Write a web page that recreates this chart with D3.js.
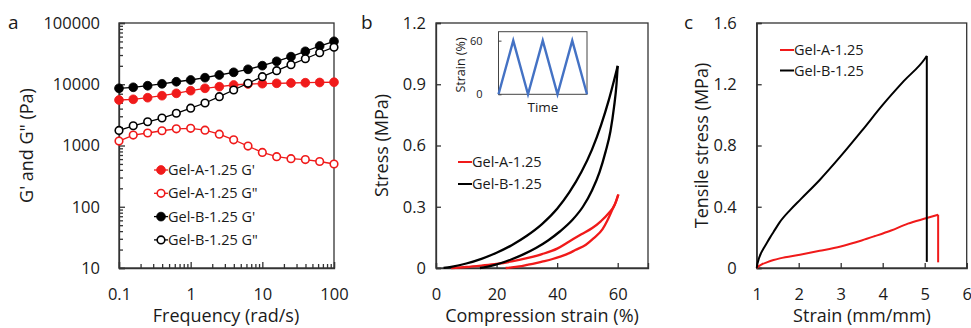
<!DOCTYPE html>
<html>
<head>
<meta charset="utf-8">
<script src="https://cdn.jsdelivr.net/npm/d3@7"></script>
<style>
  body { margin: 0; background: #fff; }
  svg text { font-family: "Open Sans", sans-serif; fill: #1a1a1a; }
  .axis path, .axis line { stroke: #333; stroke-width: 1.3; }
  .axis text { font-size: 16.5px; }
</style>
</head>
<body>
<svg width="971" height="328"></svg>
<script>
// ---- panel a : frequency sweep ----
var freq = [0.1, 0.158, 0.251, 0.398, 0.631, 1, 1.585, 2.51, 3.98, 6.31, 10, 15.85, 25.1, 39.8, 63.1, 100];
var gelA_Gp  = [5530, 5680, 6030, 6500, 7110, 7850, 8590, 9120, 9720, 10100, 10210, 10370, 10480, 10590, 10690, 10790];
var gelA_Gpp = [1180, 1480, 1600, 1740, 1870, 1910, 1780, 1530, 1240, 980, 770, 657, 609, 590, 548, 499];
var gelB_Gp  = [8590, 8920, 9460, 10180, 10980, 11730, 12800, 14160, 15670, 17540, 20090, 23700, 28200, 34500, 42100, 50200];
var gelB_Gpp = [1760, 2100, 2440, 2810, 3360, 4070, 4940, 6270, 8050, 10370, 13290, 16640, 20850, 26100, 32700, 40300];
var yTicksA = [10, 100, 1000, 10000, 100000];
var xTicksA = [0.1, 1, 10, 100];

// ---- panel b : cyclic compression ----
var bLoadStrain   = [2.5, 5, 10, 15, 20, 25, 30, 35, 40, 44, 48, 51.5, 54.5, 57, 58.8, 60];
var bLoadStress   = [0, 0.006, 0.022, 0.045, 0.075, 0.112, 0.158, 0.215, 0.29, 0.37, 0.47, 0.58, 0.7, 0.82, 0.92, 0.99];
var bUnloadStrain = [60, 59.6, 58.8, 57.6, 56, 54, 51.5, 48.5, 45, 41, 37, 33, 29, 25, 21, 17.5, 14.5];
var bUnloadStress = [0.99, 0.9, 0.79, 0.67, 0.57, 0.47, 0.38, 0.3, 0.235, 0.18, 0.135, 0.098, 0.068, 0.043, 0.022, 0.008, 0];
var aLoadStrain   = [5, 10, 15, 20, 25, 30, 35, 40, 44, 48, 51.6, 54.5, 57, 59, 60.2];
var aLoadStress   = [0, 0.005, 0.012, 0.02, 0.032, 0.048, 0.068, 0.095, 0.13, 0.165, 0.196, 0.23, 0.268, 0.31, 0.36];
var aUnloadStrain = [60.2, 59.3, 58.2, 56.5, 55, 52, 49.5, 46, 44, 41, 38.5, 35, 33, 30, 27.5, 25, 23];
var aUnloadStress = [0.36, 0.32, 0.285, 0.23, 0.19, 0.145, 0.114, 0.088, 0.073, 0.056, 0.044, 0.031, 0.024, 0.015, 0.008, 0.003, 0];
var xTicksB = [0, 20, 40, 60];
var yTicksB = [0, 0.3, 0.6, 0.9, 1.2];
// inset: strain program
var insetTime   = [0, 1, 2, 3, 4, 5, 6];
var insetStrain = [0, 60, 0, 60, 0, 60, 0];

// ---- panel c : tensile (last point = after break) ----
var cB_strain = [1, 1.02, 1.05, 1.1, 1.17, 1.24, 1.32, 1.4, 1.55, 1.8, 2.05, 2.5, 3, 3.5, 4, 4.5, 5, 5.05, 5.05];
var cB_stress = [0, 0.03, 0.06, 0.095, 0.13, 0.163, 0.2, 0.235, 0.3, 0.38, 0.45, 0.575, 0.73, 0.895, 1.065, 1.22, 1.365, 1.385, 0.04];
var cA_strain = [1, 1.05, 1.12, 1.24, 1.4, 1.55, 2.03, 2.5, 3, 3.5, 3.8, 4.2, 4.6, 5.05, 5.32, 5.32];
var cA_stress = [0, 0.012, 0.024, 0.037, 0.052, 0.063, 0.087, 0.112, 0.141, 0.18, 0.207, 0.245, 0.29, 0.326, 0.348, 0.037];
var xTicksC = [1, 2, 3, 4, 5, 6];
var yTicksC = [0, 0.4, 0.8, 1.2, 1.6];

var red = "#f01a1a";
var black = "#000";
var top_ = 23, bottom = 268;

var svg = d3.select("svg");

function zip(xs, ys) {
  return xs.map(function(x, i) { return [x, ys[i]]; });
}

function frame(x0, x1) {
  svg.append("rect")
    .attr("x", x0).attr("y", top_)
    .attr("width", x1 - x0).attr("height", bottom - top_)
    .attr("fill", "none").attr("stroke", "#333").attr("stroke-width", 1.3);
}

function panelLetter(txt, x) {
  svg.append("text").attr("x", x).attr("y", 29)
    .style("font-size", "19px").text(txt);
}

function yTitle(txt, x) {
  svg.append("text")
    .attr("transform", "translate(" + x + "," + (top_ + bottom) / 2 + ") rotate(-90)")
    .attr("text-anchor", "middle").attr("dy", "0.35em")
    .style("font-size", "18px").text(txt);
}

function xTitle(txt, x) {
  svg.append("text").attr("x", x).attr("y", 322)
    .attr("text-anchor", "middle")
    .style("font-size", "18px").text(txt);
}

function legendLine(x, y, color, txt) {
  svg.append("line").attr("x1", x).attr("x2", x + 14).attr("y1", y).attr("y2", y)
    .attr("stroke", color).attr("stroke-width", 2);
  svg.append("text").attr("x", x + 14).attr("y", y).attr("dy", "0.35em")
    .style("font-size", "14.5px").text(txt);
}

// ================= panel a =================
var xA = d3.scaleLog().domain([0.1, 100]).range([119, 334]);
var yA = d3.scaleLog().domain([10, 100000]).range([bottom, top_]);

var minorX = [], minorY = [];
[0.1, 1, 10].forEach(function(d) { for (var k = 2; k < 10; k++) minorX.push(d * k); });
[10, 100, 1000, 10000].forEach(function(d) { for (var k = 2; k < 10; k++) minorY.push(d * k); });

frame(119, 334);

svg.append("g").attr("class", "axis").attr("transform", "translate(0," + bottom + ")")
  .call(d3.axisBottom(xA).tickValues(minorX).tickSize(-4).tickFormat(""))
  .select(".domain").remove();
svg.append("g").attr("class", "axis").attr("transform", "translate(0," + bottom + ")")
  .call(d3.axisBottom(xA).tickValues(xTicksA).tickSize(-6).tickPadding(20).tickFormat(d3.format("~g")));
svg.append("g").attr("class", "axis").attr("transform", "translate(119,0)")
  .call(d3.axisLeft(yA).tickValues(minorY).tickSize(-4).tickFormat(""))
  .select(".domain").remove();
svg.append("g").attr("class", "axis").attr("transform", "translate(119,0)")
  .call(d3.axisLeft(yA).tickValues(yTicksA).tickSize(-6).tickPadding(19).tickFormat(d3.format("d")));

var seriesA = [
  { vals: gelA_Gp,  color: red,   open: false, name: "Gel-A-1.25 G'" },
  { vals: gelA_Gpp, color: red,   open: true,  name: "Gel-A-1.25 G\"" },
  { vals: gelB_Gp,  color: black, open: false, name: "Gel-B-1.25 G'" },
  { vals: gelB_Gpp, color: black, open: true,  name: "Gel-B-1.25 G\"" }
];
var lineA = d3.line().x(function(d) { return xA(d[0]); }).y(function(d) { return yA(d[1]); });

seriesA.forEach(function(s, si) {
  var pts = zip(freq, s.vals);
  svg.append("path").attr("d", lineA(pts)).attr("fill", "none")
    .attr("stroke", s.color).attr("stroke-width", 1.3);
  svg.append("g").selectAll("circle").data(pts).enter().append("circle")
    .attr("cx", function(d) { return xA(d[0]); })
    .attr("cy", function(d) { return yA(d[1]); })
    .attr("r", s.open ? 3.8 : 4.4)
    .attr("fill", s.open ? "#fff" : s.color)
    .attr("stroke", s.color).attr("stroke-width", s.open ? 1.6 : 0.8);

  // legend
  var ly = 170 + si * 23.3;
  svg.append("line").attr("x1", 154).attr("x2", 168).attr("y1", ly).attr("y2", ly)
    .attr("stroke", s.color).attr("stroke-width", 1.3);
  svg.append("circle").attr("cx", 161).attr("cy", ly).attr("r", s.open ? 3.8 : 4.4)
    .attr("fill", s.open ? "#fff" : s.color)
    .attr("stroke", s.color).attr("stroke-width", s.open ? 1.6 : 0.8);
  svg.append("text").attr("x", 168).attr("y", ly).attr("dy", "0.35em")
    .style("font-size", "14.5px").text(s.name);
});

panelLetter("a", 8);
yTitle("G' and G\" (Pa)", 27);
xTitle("Frequency (rad/s)", 226);

// ================= panel b =================
var xB = d3.scaleLinear().domain([0, 70]).range([436, 648]);
var yB = d3.scaleLinear().domain([0, 1.2]).range([bottom, top_]);

frame(436, 648);
svg.append("g").attr("class", "axis").attr("transform", "translate(0," + bottom + ")")
  .call(d3.axisBottom(xB).tickValues(xTicksB).tickSize(-5).tickPadding(20));
svg.append("g").attr("class", "axis").attr("transform", "translate(436,0)")
  .call(d3.axisLeft(yB).tickValues(yTicksB).tickSize(-5).tickPadding(10).tickFormat(d3.format("~g")));

var lineB = d3.line().curve(d3.curveMonotoneX)
  .x(function(d) { return xB(d[0]); }).y(function(d) { return yB(d[1]); });
function drawLoop(ls, lv, us, uv, color) {
  svg.append("path").attr("d", lineB(zip(ls, lv)))
    .attr("fill", "none").attr("stroke", color).attr("stroke-width", 2.3);
  svg.append("path").attr("d", lineB(zip(us, uv).reverse()))
    .attr("fill", "none").attr("stroke", color).attr("stroke-width", 2.3);
}
drawLoop(aLoadStrain, aLoadStress, aUnloadStrain, aUnloadStress, red);
drawLoop(bLoadStrain, bLoadStress, bUnloadStrain, bUnloadStress, black);

legendLine(458, 162, red, "Gel-A-1.25");
legendLine(458, 184, black, "Gel-B-1.25");

// inset
var xI = d3.scaleLinear().domain([0, 6]).range([498.5, 587]);
var yI = d3.scaleLinear().domain([0, 70]).range([94.3, 31.7]);
svg.append("rect").attr("x", 498.5).attr("y", 31.7).attr("width", 88.5).attr("height", 62.6)
  .attr("fill", "#fff").attr("stroke", "#444").attr("stroke-width", 1);
var insetAxis = svg.append("g").attr("transform", "translate(498.5,0)")
  .call(d3.axisLeft(yI).tickValues([0, 60]).tickSize(-3).tickPadding(16));
insetAxis.select(".domain").remove();
insetAxis.selectAll("line").attr("stroke", "#444");
insetAxis.selectAll("text").style("font-size", "11px").style("font-family", "Open Sans, sans-serif").attr("fill", "#1a1a1a");
svg.append("path")
  .attr("d", d3.line().x(function(d) { return xI(d[0]); }).y(function(d) { return yI(d[1]); })(zip(insetTime, insetStrain)))
  .attr("fill", "none").attr("stroke", "#4472c4").attr("stroke-width", 2.4);
svg.append("text")
  .attr("transform", "translate(461,65) rotate(-90)")
  .attr("text-anchor", "middle").attr("dy", "0.35em")
  .style("font-size", "12.5px").text("Strain (%)");
svg.append("text").attr("x", 543).attr("y", 112).attr("text-anchor", "middle")
  .style("font-size", "13.5px").text("Time");

panelLetter("b", 361);
yTitle("Stress (MPa)", 382);
xTitle("Compression strain (%)", 542);

// ================= panel c =================
var xC = d3.scaleLinear().domain([1, 6]).range([756.7, 966.7]);
var yC = d3.scaleLinear().domain([0, 1.6]).range([bottom, top_]);

frame(756.7, 966.7);
svg.append("g").attr("class", "axis").attr("transform", "translate(0," + bottom + ")")
  .call(d3.axisBottom(xC).tickValues(xTicksC).tickSize(-5).tickPadding(20).tickFormat(d3.format("d")));
svg.append("g").attr("class", "axis").attr("transform", "translate(756.7,0)")
  .call(d3.axisLeft(yC).tickValues(yTicksC).tickSize(-5).tickPadding(20).tickFormat(d3.format("~g")));

// rising part smooth, then the drop at break as a straight segment
var lineC = d3.line().curve(d3.curveMonotoneX)
  .x(function(d) { return xC(d[0]); }).y(function(d) { return yC(d[1]); });
var lineCdrop = d3.line().x(function(d) { return xC(d[0]); }).y(function(d) { return yC(d[1]); });
function drawTensile(xs, ys, color) {
  var pts = zip(xs, ys);
  var n = pts.length;
  svg.append("path").attr("d", lineC(pts.slice(0, n - 1)))
    .attr("fill", "none").attr("stroke", color).attr("stroke-width", 2);
  svg.append("path").attr("d", lineCdrop(pts.slice(n - 2)))
    .attr("fill", "none").attr("stroke", color).attr("stroke-width", 2);
}
drawTensile(cA_strain, cA_stress, red);
drawTensile(cB_strain, cB_stress, black);

legendLine(780, 50, red, "Gel-A-1.25");
legendLine(780, 70.5, black, "Gel-B-1.25");

panelLetter("c", 684);
yTitle("Tensile stress (MPa)", 702);
xTitle("Strain (mm/mm)", 862);
</script>
</body>
</html>
